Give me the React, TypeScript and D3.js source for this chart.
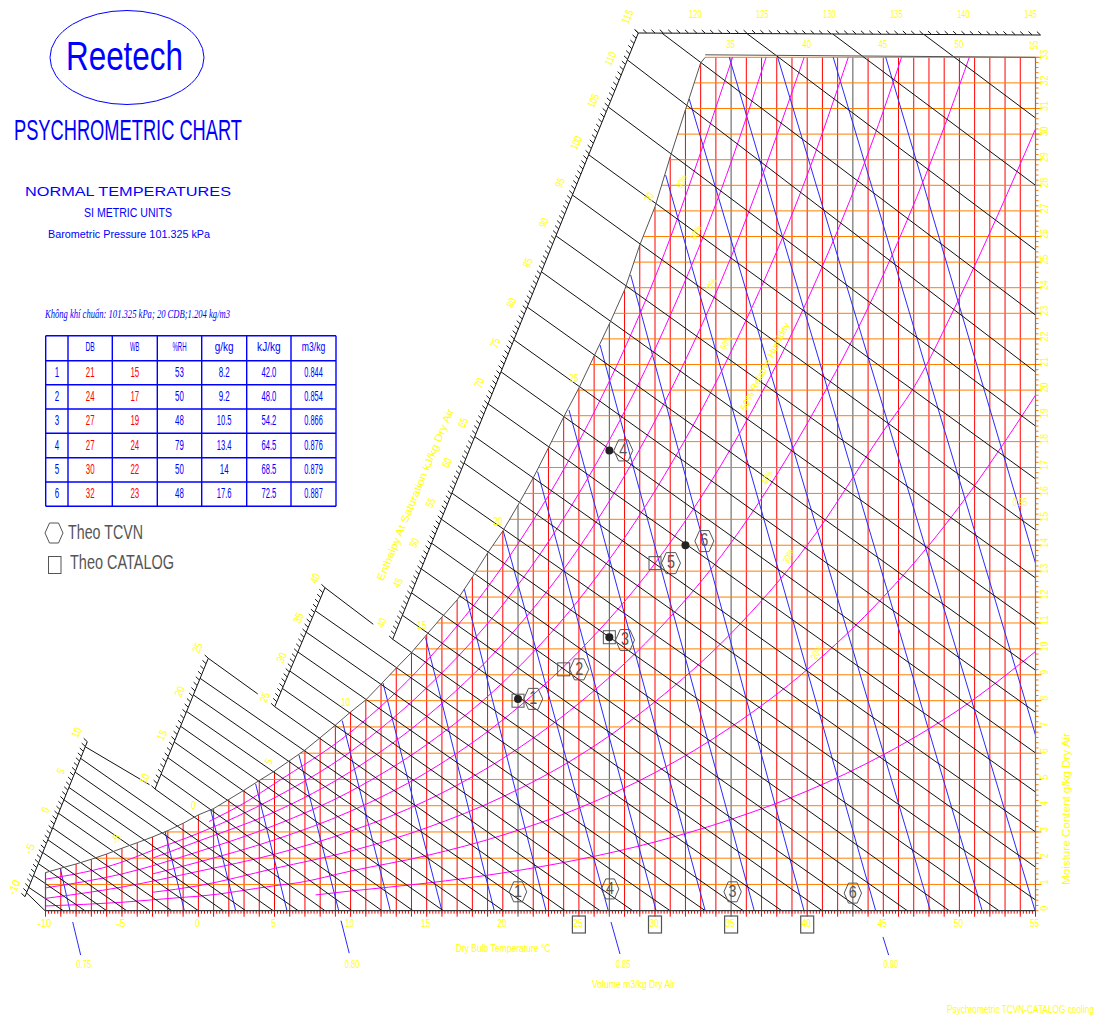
import React from 'react';
import * as d3 from 'd3';

// ---------- chart data (°C, g/kg, kJ/kg) ----------
const dryBulbTicks = d3.range(-10, 56);
const dryBulbLabels = [-10, -5, 0, 5, 10, 15, 20, 25, 30, 35, 40, 45, 50, 55];
const moistureTicks = d3.range(0, 34);
const markerVerticals = [21, 27, 35, 43];

const satT = d3.range(-10, 34);
const satW = [1.45, 1.62, 1.78, 1.96, 2.16, 2.38, 2.59, 2.81, 3.05, 3.33, 3.65, 3.89, 4.24, 4.59, 4.96, 5.32, 5.72, 6.12, 6.59, 7.07, 7.57, 8.03, 8.64, 9.26, 9.86, 10.55, 11.23, 11.89, 12.77, 13.7, 14.55, 15.55, 16.6, 17.76, 18.95, 20.08, 21.33, 22.58, 23.91, 25.67, 27.16, 29.11, 30.95, 32.78];
const satEndT = 33.3;
const satLabelT = [-5, 0, 5, 10, 15, 20, 25, 30];
const satLabelRot = [-65, 0, -65, 0, 0, 0, 0, -60];

const volumeLabels = ['0.75', '0.80', '0.85', '0.90'];
const volumeLabelT = [-7.5, 10.1, 27.9, 45.5];
const volStubT0 = [-8.22, 9.37, 27.11, 44.98];
const volStubT1 = [-7.7, 9.91, 27.7, 45.35];
const volStubW0 = [-0.43, -0.38, -0.43, -1.0];
const volStubW1 = [-1.69, -1.62, -1.65, -1.69];
const volEndT = [-8.4, -0.92, 2.45, 5.82, 9.22, 12.61, 16.0, 19.44, 22.84, 26.93, 30.07, 33.3, 36.52, 39.79, 44.5, 48.09, 51.5, 54.97, 55, 55];
const volEndW = [0, 0, 0, 0, 0, 0, 0, 0, 0, 0, 0, 0, 0, 0, 0, 0, 0, 0, 6.69, 13.31];
const volTopT = [-9.03, -2.18, 0.81, 3.76, 6.61, 9.45, 12.13, 14.92, 17.47, 20.03, 22.29, 24.35, 26.39, 28.4, 30.7, 32.25, 34.88, 38.06, 41.71, 45.16];
const volTopW = [1.6, 3.01, 3.84, 4.83, 5.93, 7.24, 8.68, 10.44, 12.31, 14.55, 16.84, 19.22, 21.76, 24.5, 28.4, 31.37, 33, 33, 33, 33];

const rh10T = [7.7, 10, 15, 20, 25, 30, 35, 40, 45, 48, 50, 55];
const rh10W = [0.6, 0.75, 1.05, 1.44, 1.95, 2.62, 3.48, 4.56, 5.94, 6.93, 7.67, 9.9];
const rh20T = [-10, -5, -1, 0, 5, 6.6, 10, 15, 20, 25, 30, 35, 40, 45, 48, 50, 55];
const rh20W = [0.18, 0.32, 0.51, 0.55, 0.95, 1.07, 1.51, 2.1, 2.88, 3.91, 5.26, 7.0, 9.2, 12.0, 14.0, 15.5, 19.8];
const rh30T = [-3, 0, 5, 10, 15, 20, 25, 30, 35, 40, 45, 47, 50, 55];
const rh30W = [0.7, 0.95, 1.61, 2.27, 3.16, 4.34, 5.9, 7.96, 10.6, 14.0, 18.4, 20.1, 23.6, 30.2];
const rh40T = [-10, -5, 0, 5, 10, 15, 20, 25, 30, 35, 40, 45, 50, 50.65];
const rh40W = [0.47, 0.9, 1.5, 2.15, 3.03, 4.2, 5.8, 7.9, 10.6, 14.1, 18.7, 24.5, 31.9, 33];
const rh50T = [-3, 0, 5, 10, 15, 20, 25, 30, 35, 40, 45, 46.2];
const rh50W = [1.4, 1.85, 2.7, 3.79, 5.27, 7.27, 9.9, 13.3, 17.75, 23.5, 30.9, 33];
const rh60T = [-10, -5, 0, 5, 10, 15, 20, 25, 30, 35, 40, 42.7];
const rh60W = [0.87, 1.4, 2.25, 3.25, 4.55, 6.33, 8.7, 11.9, 16.1, 21.5, 28.4, 33];
const rh70T = [-3, 0, 5, 10, 15, 20, 25, 30, 35, 39.8];
const rh70W = [2.0, 2.65, 3.76, 5.3, 7.4, 10.2, 13.9, 18.8, 25.2, 33];
const rh80T = [-10, -5, -3, 0, 5, 10, 15, 20, 25, 30, 35, 37.3];
const rh80W = [1.2, 1.85, 2.3, 2.95, 4.3, 6.06, 8.5, 11.7, 16, 21.6, 28.9, 33];
const rh90T = [0.7, 3.3, 5, 10, 15, 20, 25, 30, 35.1];
const rh90W = [3.4, 4.2, 4.84, 6.8, 9.54, 13.2, 18, 24.4, 33];
const rhCurveT = [rh10T, rh20T, rh30T, rh40T, rh50T, rh60T, rh70T, rh80T, rh90T];
const rhCurveW = [rh10W, rh20W, rh30W, rh40W, rh50W, rh60W, rh70W, rh80W, rh90W];

const rhLabelText = ['90%', '80%', '70%', '60%', '50% Relative Humidity', '40%', '30%', '20%'];
const rhLabelT = [31.8, 32.74, 33.73, 34.71, 37.27, 37.4, 38.82, 40.66];
const rhLabelW = [28.14, 26.14, 24.08, 21.84, 20.91, 16.6, 13.56, 9.85];

// enthalpy lines: value on the saturation scale -> end on the bottom axis (°C) or right edge (g/kg)
const enthalpyA = [-9.5, -8.8, -7.26, -5.73, -4.3, -2.66, -1.12, 0.76, 2.5, 4.1, 6.08, 7.85];
const enthalpyAEnd = [-10.03, -8.84, -7.42, -6.0, -4.69, -3.17, -1.75, 0, 1.64, 3.11, 4.92, 6.56];
const enthalpyB = [10, 11.7, 13.6, 15.4, 17.2, 18.9, 20.8, 22.7];
const enthalpyBEnd = [8.32, 10.09, 12.06, 14.1, 16.09, 18.06, 20.03, 22.12];
const enthalpyC = [25, 27.3, 29.5, 31.9, 34.4, 37.1];
const enthalpyCEnd = [24.09, 26.39, 28.53, 30.99, 33.3, 35.8];
const enthalpyD = [40, 43, 45.8, 48.8, 52, 55];
const enthalpyDEnd = [38.33, 40.99, 43.65, 46.58, 49.34, 52.6];
const enthalpyDR = [58.25, 62, 65.3, 69.4, 73.4, 77.4, 81.5, 85.9, 90.4, 95.5, 100.5, 106.2, 111.8];
const enthalpyDREnd = [0.41, 1.66, 3.0, 4.52, 6.01, 7.56, 9.18, 10.92, 12.74, 14.59, 16.56, 18.6, 20.71];
const enthalpyTop = [116.76, 123.1, 129.5, 136.3];
const enthalpyTopEnd = [22.93, 25.47, 28.0, 30.63];
const shortH = [9.35, 25, 40];
const shortEndT = [-3.2, 3.9, 11.49];
const shortEndW = [4.8, 8.26, 10.95];

const labelsA = [-10, -5, 0, 5, 10];
const labelsB = [10, 15, 20, 25];
const labelsC = [25, 30, 35, 40];
const labelsD = d3.range(40, 116, 5);
const labelsTop = [120, 125, 130, 135, 140, 145];
const topDryBulb = [35, 40, 45, 50, 55];

// comparison table
const tableHead = ['', 'DB', 'WB', '%RH', 'g/kg', 'kJ/kg', 'm3/kg'];
const rowNo = ['1', '2', '3', '4', '5', '6'];
const colDB = ['21', '24', '27', '27', '30', '32'];
const colWB = ['15', '17', '19', '24', '22', '23'];
const colRH = ['53', '50', '48', '79', '50', '48'];
const colG = ['8.2', '9.2', '10.5', '13.4', '14', '17.6'];
const colKJ = ['42.0', '48.0', '54.2', '64.5', '68.5', '72.5'];
const colM3 = ['0.844', '0.854', '0.866', '0.876', '0.879', '0.887'];

// plotted state points
const dotT = [21, 27, 27, 32];
const dotW = [8.07, 10.45, 17.66, 14.0];
const boxT = [21, 24, 27, 30];
const boxW = [8.0, 9.21, 10.45, 13.31];
const hexNo = ['1', '2', '3', '4', '5', '6'];
const hexT = [22.0, 25.02, 28.03, 27.92, 31.05, 33.24];
const hexW = [8.07, 9.21, 10.34, 17.66, 13.31, 14.16];
const axisHexNo = ['1', '4', '3', '6'];
const axisHexT = [21, 27.05, 35.1, 43];
const axisHexW = [0.72, 0.83, 0.72, 0.67];
const axisBoxT = [25, 30, 35, 40];

// ---------- scales ----------
const W = 1116, H = 1023;
const xS = d3.scaleLinear().domain([-10, 0, 55]).range([45.5, 198.4, 1035.5]);
const yS = d3.scaleLinear().domain([0, 8, 19, 33]).range([910.7, 700.7, 415.7, 57.3]);
const satInterpT = d3.scaleLinear().domain(satW).range(satT);
const satAt = d3.scaleLinear().domain(satT).range(satW);

const scaleA = { x: d3.scaleLinear().domain([-10, 10]).range([25, 87.3]), y: d3.scaleLinear().domain([-10, 10]).range([896.7, 741.7]) };
const scaleB = { x: d3.scaleLinear().domain([10, 25]).range([155, 208.3]), y: d3.scaleLinear().domain([10, 25]).range([789, 658.3]) };
const scaleC = { x: d3.scaleLinear().domain([25, 40]).range([274.7, 325]), y: d3.scaleLinear().domain([25, 40]).range([706.7, 587.7]) };
const scaleD = { x: d3.scaleLinear().domain([40, 70, 100, 115]).range([392.7, 490, 587, 638.3]), y: d3.scaleLinear().domain([40, 70, 100, 115]).range([639.3, 399, 159, 33]) };
const scaleTop = { x: d3.scaleLinear().domain([115, 145]).range([638.3, 1040.5]), y: d3.scaleLinear().domain([115, 145]).range([33, 35]) };
type HS = typeof scaleA;

const YEL = '#ffff00', BLUE = '#0000ff', RED = '#ff0000', ORG = '#ff7f00', MAG = '#ff00ff', INK = '#111', GRY = '#555', VOL = '#2a2aff';
const SANS = "'Liberation Sans', Arial, sans-serif";

function Txt({ x, y, s, size = 10.5, cw = 4.6, rot = 0, fill = YEL, anchor = 'middle', font = SANS, italic = false, len, weight }: any) {
  const L = len ?? s.length * cw;
  return (
    <text x={x} y={y} fontSize={size} fill={fill} textAnchor={anchor} fontFamily={font}
      fontStyle={italic ? 'italic' : 'normal'} fontWeight={weight} textLength={L} lengthAdjust="spacingAndGlyphs"
      dominantBaseline="middle" transform={rot ? `rotate(${rot} ${x} ${y})` : undefined}>{s}</text>
  );
}

function Hex({ x, y, rx = 9, ry = 10, sw = 1 }: any) {
  const pts = [[-rx, 0], [-rx / 2, -ry], [rx / 2, -ry], [rx, 0], [rx / 2, ry], [-rx / 2, ry]];
  return <polygon points={pts.map(p => `${x + p[0]},${y + p[1]}`).join(' ')} fill="none" stroke={GRY} strokeWidth={sw} />;
}

function Hatch({ sc, from, to }: { sc: HS; from: number; to: number }) {
  const pts = d3.range(from, to + 0.001, 0.625);
  const line = d3.line<number>().x(h => sc.x(h)).y(h => sc.y(h));
  return (
    <g stroke={INK} strokeWidth={1} fill="none">
      <path d={line(pts) ?? ''} />
      {pts.map((h, i) => <line key={i} x1={sc.x(h)} y1={sc.y(h)} x2={sc.x(h) - 3.6} y2={sc.y(h) - 3.4} />)}
    </g>
  );
}

export default function App() {
  const rhLine = d3.line<[number, number]>().x(d => xS(d[0])).y(d => yS(d[1])).curve(d3.curveMonotoneX);
  const satPts: [number, number][] = [...satT.map((t, i) => [t, satW[i]] as [number, number]), [satEndT, 33]];
  const satPath = d3.line<[number, number]>().x(d => xS(d[0])).y(d => yS(d[1]))(satPts) ?? '';
  const vTop = (t: number) => yS(t >= satEndT ? 33 : satAt(t));
  const hLeft = (w: number) => (w <= satW[0] ? xS(-10) : w >= 33 ? xS(satEndT) : xS(satInterpT(w)));
  const elines = (hs: number[], sc: HS, ends: number[], onBottom: boolean) => hs.map((h, i) => (
    <line key={i} x1={sc.x(h)} y1={sc.y(h)} x2={onBottom ? xS(ends[i]) : xS(55)} y2={onBottom ? yS(0) : yS(ends[i])} />
  ));
  const minorX = d3.range(-10, 55.01, 0.2);
  const minorY = d3.range(0, 33.01, 0.2);
  const colX = [45.7, 68, 112.3, 157.3, 201.7, 246.7, 291, 336];
  const rowY = [335.7, 360.7, 384.7, 409, 433.3, 457.7, 482, 506.3];
  const cols = [rowNo, colDB, colWB, colRH, colG, colKJ, colM3];

  return (
    <svg width={W} height={H} viewBox={`0 0 ${W} ${H}`} style={{ position: 'absolute', left: 0, top: 0, display: 'block', background: '#fff' }}>
      {/* title block */}
      <ellipse cx={127} cy={57.5} rx={77} ry={47} fill="none" stroke={BLUE} strokeWidth={1} />
      <Txt x={124.5} y={59} s="Reetech" size={41} len={117} fill={BLUE} />
      <Txt x={128} y={132.5} s="PSYCHROMETRIC CHART" size={29} len={228} fill={BLUE} />
      <Txt x={128} y={192.5} s="NORMAL TEMPERATURES" size={12.5} len={206} fill={BLUE} />
      <Txt x={128} y={214} s="SI METRIC UNITS" size={12} len={88} fill={BLUE} />
      <Txt x={129} y={235} s="Barometric Pressure 101.325 kPa" size={11.5} len={162} fill={BLUE} />
      <Txt x={137.5} y={315} s="Không khí chuẩn: 101.325 kPa; 20 CDB;1.204 kg/m3" size={11.5} len={185} fill={BLUE} italic font="'Liberation Serif', serif" />

      {/* table */}
      <g stroke={BLUE} strokeWidth={1.4}>
        {colX.map((x, i) => <line key={i} x1={x} x2={x} y1={rowY[0]} y2={rowY[7]} />)}
        {rowY.map((y, i) => <line key={i} x1={colX[0]} x2={colX[7]} y1={y} y2={y} />)}
      </g>
      {tableHead.map((s, i) => s && <Txt key={i} x={(colX[i] + colX[i + 1]) / 2} y={347.5} s={s} size={13} cw={4.7} fill={BLUE} />)}
      {cols.map((col, c) => col.map((s, r) => (
        <Txt key={`${c}-${r}`} x={(colX[c] + colX[c + 1]) / 2} y={(rowY[r + 1] + rowY[r + 2]) / 2 + 0.5} s={s} size={14}
          cw={s.includes('.') ? 3.7 : 4.4} fill={c === 1 || c === 2 ? RED : BLUE} />
      )))}
      {/* legend */}
      <Hex x={54} y={533} rx={9} ry={10} />
      <Txt x={105.5} y={534} s="Theo TCVN" size={20} len={75} fill="#555" />
      <rect x={48.5} y={556.5} width={12.5} height={17} fill="none" stroke={GRY} strokeWidth={1} />
      <Txt x={122} y={564} s="Theo CATALOG" size={20} len={104} fill="#555" />

      {/* dry bulb verticals and ticks */}
      <g stroke={RED} strokeWidth={1}>
        {minorX.map((t, i) => <line key={i} x1={xS(t)} x2={xS(t)} y1={yS(0)} y2={yS(0) + 3} />)}
        {dryBulbTicks.filter(t => !markerVerticals.includes(t)).map(t => (
          <line key={t} x1={xS(t)} x2={xS(t)} y1={vTop(t)} y2={yS(0) + 6} />
        ))}
      </g>
      <g stroke={GRY} strokeWidth={1}>
        {markerVerticals.map(t => <line key={t} x1={xS(t)} x2={xS(t)} y1={vTop(t)} y2={yS(0) + 6} />)}
      </g>
      {/* moisture horizontals and ticks */}
      <g stroke={ORG} strokeWidth={1}>
        {minorY.map((w, i) => <line key={i} x1={xS(55)} x2={xS(55) + 3} y1={yS(w)} y2={yS(w)} />)}
        {moistureTicks.slice(1).map(w => <line key={w} x1={hLeft(w)} x2={xS(55) + 6} y1={yS(w)} y2={yS(w)} />)}
      </g>
      {/* specific volume */}
      <g stroke={VOL} strokeWidth={1}>
        {volTopT.map((t, i) => <line key={i} x1={xS(t)} y1={yS(volTopW[i])} x2={xS(volEndT[i])} y2={yS(volEndW[i])} />)}
        {volStubT0.map((t, i) => <line key={i} x1={xS(t)} y1={yS(volStubW0[i])} x2={xS(volStubT1[i])} y2={yS(volStubW1[i])} />)}
      </g>
      {/* relative humidity */}
      <g stroke={MAG} strokeWidth={1} fill="none">
        {rhCurveT.map((ts, i) => <path key={i} d={rhLine(ts.map((t, k) => [t, rhCurveW[i][k]] as [number, number])) ?? ''} />)}
      </g>
      {/* enthalpy */}
      <g stroke={INK} strokeWidth={1}>
        {elines(enthalpyA, scaleA, enthalpyAEnd, true)}
        {elines(enthalpyB, scaleB, enthalpyBEnd, true)}
        {elines(enthalpyC, scaleC, enthalpyCEnd, true)}
        {elines(enthalpyD, scaleD, enthalpyDEnd, true)}
        {elines(enthalpyDR, scaleD, enthalpyDREnd, false)}
        {elines(enthalpyTop, scaleTop, enthalpyTopEnd, false)}
        <line x1={scaleA.x(shortH[0])} y1={scaleA.y(shortH[0])} x2={xS(shortEndT[0])} y2={yS(shortEndW[0])} />
        <line x1={scaleB.x(shortH[1])} y1={scaleB.y(shortH[1])} x2={xS(shortEndT[1])} y2={yS(shortEndW[1])} />
        <line x1={scaleC.x(shortH[2])} y1={scaleC.y(shortH[2])} x2={xS(shortEndT[2])} y2={yS(shortEndW[2])} />
      </g>
      <Hatch sc={scaleA} from={-10} to={10} />
      <Hatch sc={scaleB} from={10} to={25} />
      <Hatch sc={scaleC} from={25} to={40} />
      <Hatch sc={scaleD} from={40} to={115} />
      <Hatch sc={scaleTop} from={115} to={145} />
      {/* frame */}
      <path d={satPath} fill="none" stroke={GRY} strokeWidth={1} />
      <line x1={xS(-10)} x2={xS(-10)} y1={yS(satW[0])} y2={yS(0)} stroke={GRY} strokeWidth={1.2} />
      <line x1={xS(55)} x2={xS(55)} y1={yS(33)} y2={yS(0)} stroke="#777" strokeWidth={1.2} />
      <line x1={xS(-10)} x2={xS(55)} y1={yS(0)} y2={yS(0)} stroke="#333" strokeWidth={1.2} />
      <line x1={xS(satEndT)} x2={xS(55)} y1={yS(33) - 2.5} y2={yS(33)} stroke="#555" strokeWidth={1} />

      {/* axis labels */}
      {dryBulbLabels.map(t => <Txt key={t} x={xS(t) - 1} y={924.5} s={String(t)} size={11} cw={4.6} />)}
      {moistureTicks.map(w => <Txt key={w} x={1045.5} y={yS(w) - 2.5} s={String(w)} size={11} cw={5} rot={-90} />)}
      {topDryBulb.map((t, i) => <Txt key={t} x={xS(t) - 0.5} y={45} s={String(t)} size={11} cw={4.4} rot={i === 4 ? -90 : 0} />)}
      {labelsTop.map(h => <Txt key={h} x={scaleTop.x(h) - 10} y={15.5} s={String(h)} size={11} cw={4.2} />)}
      {labelsA.map(h => <Txt key={h} x={scaleA.x(h) - 10} y={scaleA.y(h) - 9} s={String(h)} size={11} cw={5} rot={-65} />)}
      {labelsB.map(h => <Txt key={h} x={scaleB.x(h) - 10} y={scaleB.y(h) - 10} s={String(h)} size={11} cw={5} rot={-65} />)}
      {labelsC.map(h => <Txt key={h} x={scaleC.x(h) - 9} y={scaleC.y(h) - 9} s={String(h)} size={11} cw={5} rot={-65} />)}
      {labelsD.map(h => <Txt key={h} x={scaleD.x(h) - 10} y={scaleD.y(h) - 16} s={String(h)} size={11} cw={4.6} rot={-65} />)}
      {satLabelT.map((t, i) => <Txt key={t} x={xS(t) - 5} y={yS(satAt(t)) - 9} s={String(t)} size={11} cw={4.6} rot={satLabelRot[i]} />)}
      {rhLabelText.map((s, i) => (
        <Txt key={s} x={xS(rhLabelT[i])} y={yS(rhLabelW[i])} s={s} size={9.5} len={s.length > 4 ? 97 : 14} rot={-63} />
      ))}
      <Txt x={xS(53.98)} y={yS(15.63)} s="0.95" size={11} cw={3.6} />
      {volumeLabels.map((s, i) => <Txt key={s} x={xS(volumeLabelT[i])} y={965} s={s} size={11} cw={3.7} />)}
      <Txt x={503} y={949} s="Dry Bulb Temperature °C" size={10.5} len={95} />
      <Txt x={633.5} y={985} s="Volume m3/kg Dry Air" size={10.5} len={83} />
      <Txt x={1020.5} y={1010} s="Psychrometric TCVN-CATALOG cooling" size={11} len={147} />
      <Txt x={1067} y={809} s="Moisture Content g/kg Dry Air" size={10.5} len={152} rot={-90} />
      <Txt x={416} y={495} s="Enthalpy At Saturation kJ/kg Dry Air" size={10.5} len={185} rot={-67.5} />

      {/* points */}
      {dotT.map((t, i) => <circle key={i} cx={xS(t)} cy={yS(dotW[i])} r={4} fill="#222" />)}
      {boxT.map((t, i) => <rect key={i} x={xS(t) - 6} y={yS(boxW[i]) - 6.5} width={12} height={13} fill="none" stroke={GRY} strokeWidth={1} />)}
      {hexT.map((t, i) => (
        <g key={i}>
          <Hex x={xS(t)} y={yS(hexW[i])} rx={9.5} ry={10.5} />
          <Txt x={xS(t)} y={yS(hexW[i]) + 0.5} s={hexNo[i]} size={18} len={8} fill="#555" />
        </g>
      ))}
      {axisHexT.map((t, i) => (
        <g key={i}>
          <Hex x={xS(t)} y={yS(axisHexW[i])} rx={8.7} ry={10} />
          <Txt x={xS(t)} y={yS(axisHexW[i]) + 0.5} s={axisHexNo[i]} size={17} len={8} fill="#555" />
        </g>
      ))}
      {axisBoxT.map(t => <rect key={t} x={xS(t) - 6.5} y={916} width={13} height={17} fill="none" stroke={GRY} strokeWidth={1.2} />)}
    </svg>
  );
}
